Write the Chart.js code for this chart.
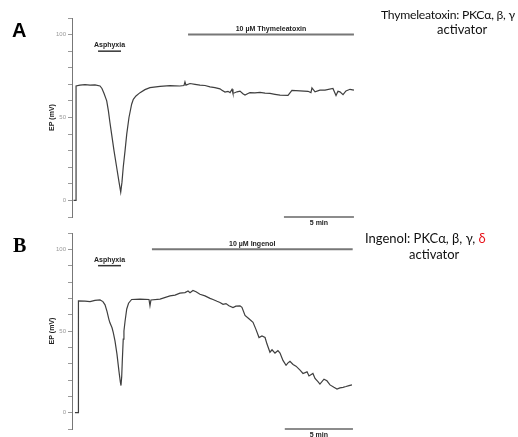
<!DOCTYPE html>
<html>
<head>
<meta charset="utf-8">
<script src="https://cdn.jsdelivr.net/npm/chart.js@4"></script>
<style>
body { margin: 0; background: #fff; }
#wrap { position: relative; width: 518px; height: 437px; overflow: hidden; }
canvas { position: absolute; left: 0; }
.lbl { position: absolute; font-weight: bold; font-size: 20px; color: #000; }
.note { position: absolute; font-family: Lato, "Open Sans", sans-serif; font-size: 13px; color: #111; white-space: nowrap; }
</style>
</head>
<body>
<div id="wrap">
  <canvas id="chartA" width="518" height="232" style="top:0"></canvas>
  <canvas id="chartB" width="518" height="222" style="top:215px"></canvas>
  <div class="lbl" style="left:12px; top:19px; font-family:'Liberation Sans', Arial, sans-serif;">A</div>
  <div class="lbl" style="left:13px; top:234px; font-family:'Liberation Serif', serif;">B</div>
  <div class="note" style="left:381px; top:7px; font-size:12.2px; letter-spacing:-0.25px;">Thymeleatoxin: PKCα, β, γ</div>
  <div class="note" style="left:437px; top:21px;">activator</div>
  <div class="note" style="left:365px; top:230px;">Ingenol: PKCα, β, γ, <span style="color:#e8141b">δ</span></div>
  <div class="note" style="left:409px; top:246px;">activator</div>
</div>
<script>
// time in minutes, EP in mV
const timeA = [0.11, 0.29, 0.29, 0.57, 0.93, 1.29, 1.64, 2.0, 2.14, 2.29, 2.48, 2.6, 2.71, 2.83, 3.0, 3.19, 3.36, 3.48, 3.57, 3.66, 3.79, 3.91, 4.07, 4.26, 4.38, 4.57, 4.86, 5.21, 5.57, 6.29, 7.0, 7.71, 8.0, 8.07, 8.14, 8.43, 8.79,
    9.14, 9.5, 9.86, 10.21, 10.57, 10.71, 10.93, 11.14, 11.29, 11.43, 11.5, 11.79, 12.0, 12.21, 12.36, 12.57, 12.71, 13.07, 13.43, 13.79, 14.14, 14.5, 14.86, 15.43, 15.71, 16.29, 16.86, 17.07, 17.14, 17.36, 17.71, 18.07, 18.64, 18.86, 19.0, 19.14, 19.36, 19.57, 19.86, 20.14];
const epA = [0, 0, 69, 69.5, 69.8, 69.5, 69.7, 69, 67.5, 64.5, 60, 54, 47, 40, 30, 20, 11, 5, 11, 20, 30, 40, 50, 58, 61, 63, 65, 66.8, 68, 68.8, 69.2, 69, 69.3, 71.5, 69.5, 70.5, 70,
    69.5, 69.3, 68.5, 68, 67.3, 66.5, 65.3, 65.8, 65, 67, 64.5, 65.5, 65.9, 64.3, 63.5, 64.5, 65, 64.8, 65.2, 64.7, 64.5, 64, 63.5, 63.3, 66.3, 66, 65.8, 65, 67.8, 65.5, 66.5, 66.5, 67.5, 63.3, 65.8, 65.5, 63.8, 66, 67, 66.5];

const timeB = [0.21, 0.46, 0.46, 0.93, 1.29, 1.64, 2.0, 2.21, 2.36, 2.5, 2.64, 2.71, 2.86, 2.95, 3.07, 3.21, 3.36, 3.45, 3.5, 3.55, 3.59, 3.66, 3.71, 3.79, 3.91, 4.04, 4.26, 4.86, 5.5, 5.57, 5.64, 6.29, 7.0, 7.36, 7.71, 8.07, 8.29, 8.43, 8.64, 8.86,
    9.14, 9.5, 9.86, 10.07, 10.36, 10.57, 10.79, 11.0, 11.21, 11.5, 11.71, 12.0, 12.14, 12.36, 12.64, 12.93, 13.14, 13.36, 13.57, 13.79, 13.93, 14.14, 14.29, 14.5, 14.71, 14.86, 15.07, 15.29, 15.43, 15.57, 15.79, 16.0,
    16.29, 16.5, 16.79, 16.93, 17.21, 17.36, 17.57, 17.71, 18.0, 18.21, 18.43, 18.71, 18.93, 19.14, 19.36, 19.57, 19.79, 20.0];
const epB = [0, 0, 68.5, 68.3, 68, 68.7, 69, 68, 66, 62, 57, 55, 52, 49, 44, 36, 25, 19, 16.6, 22, 31, 45, 50, 56, 63.5, 67, 69.3, 69.5, 69.3, 65.5, 69, 69.5, 71.5, 72, 73.2, 73.5, 74.5, 73.5, 74.8, 74,
    72.5, 71.5, 70, 69.3, 68.2, 67.5, 66.3, 66.8, 65.5, 64.3, 65.2, 65.4, 64.5, 59.5, 57.5, 55.3, 51, 46, 47, 46, 42, 37, 38.5, 36.5, 38, 36.5, 32, 29, 30.5, 31.5, 29.5, 28.5,
    26, 24, 25, 22.5, 24, 21, 19, 17.5, 20.5, 19.5, 17, 15.5, 14.5, 15.2, 15.5, 16, 16.6, 17];

const asphyxiaA = [1.86, 3.5];
const drugA = [8.29, 20.14];
const asphyxiaB = [1.86, 3.5];
const drugB = [5.71, 20.05];
const scaleBarA = [15.14, 20.14];
const scaleBarB = [15.2, 20.07];
const yTickLabels = [0, 50, 100];

const labelPlugin = {
    id: 'labels',
    afterDraw(chart) {
        const o = chart.options.plugins.labels;
        const ctx = chart.ctx;
        const x = chart.scales.x, y = chart.scales.y;
        const mid = (r) => (x.getPixelForValue(r[0]) + x.getPixelForValue(r[1])) / 2;
        ctx.save();
        ctx.fillStyle = '#222';
        ctx.textAlign = 'center';
        ctx.textBaseline = 'middle';
        ctx.font = 'bold 7px "Liberation Sans", Arial, sans-serif';
        ctx.fillText('Asphyxia', mid(o.asphyxia), y.getPixelForValue(90) - 6);
        ctx.fillText(o.drugText, mid(o.drug), y.getPixelForValue(100) - 5.5);
        ctx.fillText('5 min', mid(o.scaleBar), y.getPixelForValue(-10) + 6);
        ctx.translate(52, (chart.chartArea.top + chart.chartArea.bottom) / 2);
        ctx.rotate(-Math.PI / 2);
        ctx.fillText('EP (mV)', 0, 0);
        ctx.restore();
    }
};

function pts(t, v) {
    return t.map((tt, i) => ({x: tt, y: v[i]}));
}

function bar(range, level, color, width) {
    return {
        data: [{x: range[0], y: level}, {x: range[1], y: level}],
        borderColor: color,
        borderWidth: width,
        pointRadius: 0,
        clip: false
    };
}

function makeChart(id, time, ep, asphyxia, drug, scaleBar, drugText, padBottom) {
    return new Chart(document.getElementById(id), {
        type: 'line',
        data: {
            datasets: [
                {data: pts(time, ep), borderColor: '#3f3f3f', borderWidth: 1.2, pointRadius: 0, tension: 0, clip: false},
                bar(asphyxia, 90, '#333', 1.5),
                bar(drug, 100, '#777', 2),
                bar(scaleBar, -10, '#666', 1.5)
            ]
        },
        options: {
            responsive: false,
            animation: false,
            layout: {padding: {top: 18, bottom: padBottom, left: 0, right: 160}},
            plugins: {
                legend: {display: false},
                tooltip: {enabled: false},
                labels: {asphyxia: asphyxia, drug: drug, scaleBar: scaleBar, drugText: drugText}
            },
            scales: {
                x: {type: 'linear', min: 0, max: 20.43, display: false},
                y: {
                    min: -10, max: 110,
                    afterFit: (s) => { s.width = 72; },
                    border: {display: true, color: '#777', width: 1},
                    grid: {drawOnChartArea: false, drawTicks: true, tickLength: 4, color: '#999'},
                    ticks: {
                        stepSize: 10,
                        padding: 2,
                        color: '#999',
                        font: {size: 6, family: '"Liberation Sans", Arial, sans-serif'},
                        callback: (v) => yTickLabels.includes(v) ? String(v) : ''
                    }
                }
            }
        },
        plugins: [labelPlugin]
    });
}

makeChart('chartA', timeA, epA, asphyxiaA, drugA, scaleBarA, '10 \u00b5M Thymeleatoxin', 15);
makeChart('chartB', timeB, epB, asphyxiaB, drugB, scaleBarB, '10 \u00b5M Ingenol', 8);
</script>
</body>
</html>
